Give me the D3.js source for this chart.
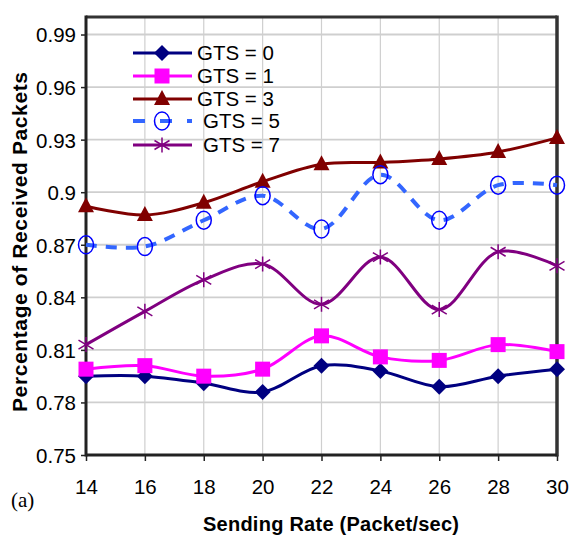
<!DOCTYPE html>
<html lang="en">
<head>
  <meta charset="UTF-8">
  <title>Percentage of Received Packets</title>
  <script src="https://d3js.org/d3.v7.min.js"></script>
  <style>
    body { margin: 0; background: #ffffff; }
    svg { display: block; font-family: "Liberation Sans", Arial, sans-serif; }
    .grid line { stroke: #cfcfcf; }
    .tick-label { font-size: 20.5px; fill: #000; }
    .axis-title { font-size: 20px; font-weight: bold; fill: #000; }
    .legend text { font-size: 20.5px; fill: #000; }
  </style>
</head>
<body>
  <svg id="chart" width="572" height="539"></svg>
  <script>
    const rates = [14, 16, 18, 20, 22, 24, 26, 28, 30];
    const yTicks = [0.75, 0.78, 0.81, 0.84, 0.87, 0.9, 0.93, 0.96, 0.99];

    const gts0 = [0.795, 0.795, 0.791, 0.786, 0.801, 0.798, 0.789, 0.795, 0.799];
    const gts1 = [0.799, 0.801, 0.795, 0.799, 0.818, 0.806, 0.804, 0.813, 0.809];
    const gts3 = [0.892, 0.887, 0.894, 0.906, 0.916, 0.917, 0.919, 0.923, 0.931];
    const gts5 = [0.870, 0.869, 0.884, 0.898, 0.879, 0.910, 0.884, 0.904, 0.904];
    const gts7 = [0.813, 0.832, 0.850, 0.859, 0.836, 0.863, 0.833, 0.866, 0.858];

    const seriesNames = ["GTS = 0", "GTS = 1", "GTS = 3", "GTS = 5", "GTS = 7"];

    const series = [
      { name: seriesNames[0], values: gts0, line: "#000080", mark: "#000080", shape: "diamond", width: 3 },
      { name: seriesNames[1], values: gts1, line: "#ff00ff", mark: "#ff00ff", shape: "square", width: 3 },
      { name: seriesNames[2], values: gts3, line: "#800000", mark: "#800000", shape: "triangle", width: 3 },
      { name: seriesNames[3], values: gts5, line: "#3366ff", mark: "#0000ff", shape: "circle", width: 4, dash: "11,9" },
      { name: seriesNames[4], values: gts7, line: "#800080", mark: "#800080", shape: "star", width: 3 }
    ];

    const svg = d3.select("#chart");
    const mLeft = 86, mRight = 557, mTop = 17, mBottom = 455;

    const x = d3.scaleLinear().domain([14, 30]).range([mLeft, mRight]);
    const y = d3.scaleLinear().domain([0.75, 1.0]).range([mBottom, mTop]);

    // grid
    const grid = svg.append("g").attr("class", "grid");
    grid.selectAll(".v").data(rates.slice(1, -1)).enter().append("line")
      .attr("x1", d => x(d)).attr("x2", d => x(d))
      .attr("y1", mTop).attr("y2", mBottom)
      .attr("stroke-width", 1.2);
    grid.selectAll(".h").data(yTicks.slice(1)).enter().append("line")
      .attr("x1", mLeft).attr("x2", mRight)
      .attr("y1", d => y(d)).attr("y2", d => y(d))
      .attr("stroke", "#d9d9d9")
      .attr("stroke-width", 1.8);

    // axes
    const yAxis = svg.append("g").attr("transform", `translate(${mLeft},0)`)
      .call(d3.axisLeft(y).tickValues(yTicks).tickSize(5).tickPadding(5)
        .tickFormat(d => String(+d.toFixed(2))));
    const xAxis = svg.append("g").attr("transform", `translate(0,${mBottom})`)
      .call(d3.axisBottom(x).tickValues(rates).tickSize(6).tickPadding(18));

    [xAxis, yAxis].forEach(a => {
      a.select(".domain").remove();
      a.selectAll("line").attr("stroke", "#222").attr("stroke-width", 1.5);
      a.selectAll("text").attr("class", "tick-label").attr("font-family", null).attr("font-size", null);
    });
    yAxis.selectAll("text").attr("dy", "0.36em");

    // frame
    svg.append("line").attr("x1", mLeft).attr("x2", mRight).attr("y1", mTop).attr("y2", mTop)
      .attr("stroke", "#333").attr("stroke-width", 3);
    svg.append("line").attr("x1", mRight).attr("x2", mRight).attr("y1", mTop - 1.5).attr("y2", mBottom + 1.5)
      .attr("stroke", "#333").attr("stroke-width", 3.5);
    svg.append("line").attr("x1", mLeft).attr("x2", mLeft).attr("y1", mTop - 1.5).attr("y2", mBottom + 1.5)
      .attr("stroke", "#222").attr("stroke-width", 3);
    svg.append("line").attr("x1", mLeft).attr("x2", mRight).attr("y1", mBottom).attr("y2", mBottom)
      .attr("stroke", "#222").attr("stroke-width", 3);

    function marker(g, s, cx, cy) {
      if (s.shape === "diamond") {
        g.append("path").attr("d", `M${cx},${cy - 8}L${cx + 8},${cy}L${cx},${cy + 8}L${cx - 8},${cy}Z`).attr("fill", s.mark);
      } else if (s.shape === "square") {
        g.append("rect").attr("x", cx - 7.5).attr("y", cy - 7.5).attr("width", 15).attr("height", 15).attr("fill", s.mark);
      } else if (s.shape === "triangle") {
        g.append("path").attr("d", `M${cx},${cy - 9}L${cx + 8},${cy + 6}L${cx - 8},${cy + 6}Z`).attr("fill", s.mark);
      } else if (s.shape === "circle") {
        g.append("ellipse").attr("cx", cx).attr("cy", cy).attr("rx", 7.5).attr("ry", 9)
          .attr("fill", "none").attr("stroke", s.mark).attr("stroke-width", 1.5);
      } else if (s.shape === "star") {
        const r = 7.5;
        g.append("path")
          .attr("d", `M${cx},${cy - r}V${cy + r}M${cx - r},${cy - r * 0.6}L${cx + r},${cy + r * 0.6}M${cx - r},${cy + r * 0.6}L${cx + r},${cy - r * 0.6}`)
          .attr("stroke", s.mark).attr("stroke-width", 1.5).attr("fill", "none");
      }
    }

    const line = d3.line().x(d => x(d[0])).y(d => y(d[1])).curve(d3.curveCatmullRom.alpha(0.5));

    series.forEach(s => {
      const pts = rates.map((r, i) => [r, s.values[i]]);
      svg.append("path").datum(pts)
        .attr("d", line)
        .attr("fill", "none")
        .attr("stroke", s.line)
        .attr("stroke-width", s.width)
        .attr("stroke-dasharray", s.dash || null);
      const g = svg.append("g");
      pts.forEach(p => marker(g, s, x(p[0]), y(p[1])));
    });

    // legend
    const legendY = [53, 76, 99, 121, 145];
    const legend = svg.append("g").attr("class", "legend");
    series.forEach((s, i) => {
      const ly = legendY[i];
      legend.append("line").attr("x1", 133).attr("x2", 192).attr("y1", ly).attr("y2", ly)
        .attr("stroke", s.line).attr("stroke-width", s.width)
        .attr("stroke-dasharray", s.dash ? "12,15" : null);
      marker(legend, s, 162, ly);
      legend.append("text").attr("x", s.shape === "circle" || s.shape === "star" ? 203 : 197)
        .attr("y", ly).attr("dy", "0.36em").text(s.name);
    });

    // titles
    svg.append("text").attr("class", "axis-title")
      .attr("x", 331).attr("y", 531).attr("text-anchor", "middle")
      .attr("textLength", 256).attr("lengthAdjust", "spacing")
      .text("Sending Rate (Packet/sec)");
    svg.append("text").attr("class", "axis-title")
      .attr("transform", `translate(27,242) rotate(-90)`)
      .attr("text-anchor", "middle")
      .attr("textLength", 340).attr("lengthAdjust", "spacing")
      .style("font-size", "21px")
      .text("Percentage of Received Packets");
    svg.append("text").attr("x", 11).attr("y", 507)
      .attr("font-family", "'Liberation Serif', 'Times New Roman', serif").attr("font-size", 21)
      .text("(a)");
  </script>
</body>
</html>
